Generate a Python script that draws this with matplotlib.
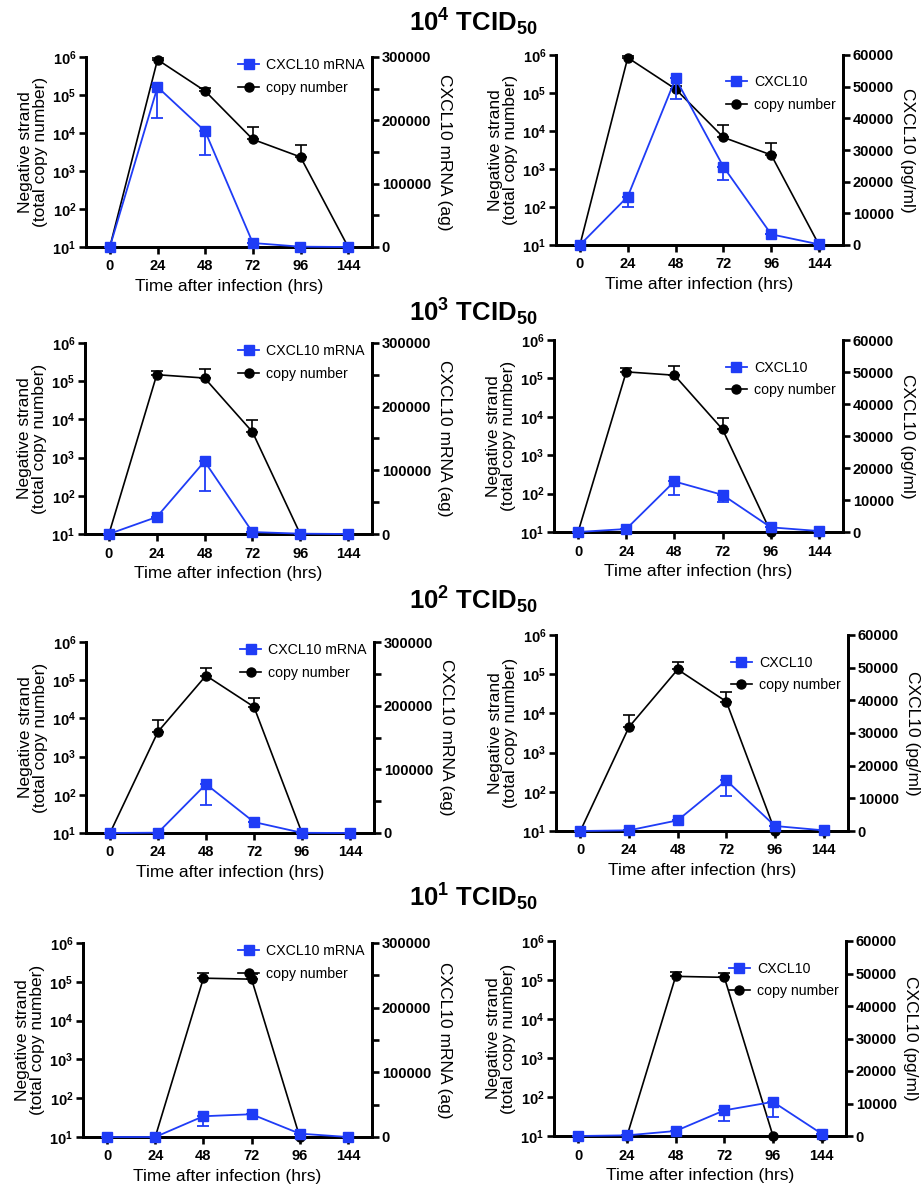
import matplotlib
matplotlib.use('Agg')
import matplotlib.pyplot as plt
from matplotlib.lines import Line2D
from matplotlib.ticker import FixedLocator, NullFormatter

plt.rcParams['font.family'] = ['Liberation Sans', 'DejaVu Sans']
plt.rcParams['mathtext.fontset'] = 'custom'
plt.rcParams['mathtext.rm'] = 'Liberation Sans:bold'
plt.rcParams['mathtext.it'] = 'Liberation Sans:bold'
plt.rcParams['mathtext.bf'] = 'Liberation Sans:bold'

# ---- data ----
times = ['0', '24', '48', '72', '96', '144']
doses = ['10$^{4}$ TCID$_{50}$', '10$^{3}$ TCID$_{50}$',
         '10$^{2}$ TCID$_{50}$', '10$^{1}$ TCID$_{50}$']

# negative strand copy number (mean, upper error)
copy_d4 = [10, 850000, 127000, 6800, 2340, 10]
copy_d4_err = [0, 105000, 28000, 7200, 2360, 0]
copy_d3 = [10, 148000, 121000, 4700, 10, 10]
copy_d3_err = [0, 34000, 92000, 4800, 0, 0]
copy_d2 = [10, 4500, 132000, 20000, 10, 10]
copy_d2_err = [0, 4400, 73000, 15000, 0, 0]
copy_d1 = [10, 10, 124000, 117000, 10, 10]
copy_d1_err = [0, 0, 41000, 38000, 0, 0]

# CXCL10 mRNA (ag) (mean, lower error)
mrna_d4 = [0, 252600, 182600, 6300, 500, 0]
mrna_d4_err = [0, 48400, 37900, 0, 0, 0]
mrna_d3 = [0, 26700, 114100, 3100, 500, 0]
mrna_d3_err = [0, 0, 46100, 0, 0, 0]
mrna_d2 = [0, 500, 76700, 17200, 300, 0]
mrna_d2_err = [0, 0, 32400, 0, 0, 0]
mrna_d1 = [0, 0, 32100, 35200, 5200, 0]
mrna_d1_err = [0, 0, 15000, 0, 0, 0]

# CXCL10 protein (pg/ml) (mean, lower error)
prot_d4 = [0, 15300, 52600, 24700, 3370, 200]
prot_d4_err = [0, 3400, 6400, 4200, 0, 0]
prot_d3 = [0, 940, 15800, 11600, 1460, 300]
prot_d3_err = [0, 0, 4200, 2200, 0, 0]
prot_d2 = [0, 200, 3270, 15500, 1530, 200]
prot_d2_err = [0, 0, 0, 4900, 0, 0]
prot_d1 = [0, 200, 1540, 7900, 10500, 700]
prot_d1_err = [0, 0, 0, 3300, 4600, 0]

copies = [(copy_d4, copy_d4_err), (copy_d3, copy_d3_err),
          (copy_d2, copy_d2_err), (copy_d1, copy_d1_err)]
mrnas = [(mrna_d4, mrna_d4_err), (mrna_d3, mrna_d3_err),
         (mrna_d2, mrna_d2_err), (mrna_d1, mrna_d1_err)]
prots = [(prot_d4, prot_d4_err), (prot_d3, prot_d3_err),
         (prot_d2, prot_d2_err), (prot_d1, prot_d1_err)]

BLUE = '#1f3cf6'
W, H = 922, 1186

# panel rectangles in pixels: (left, top, right, bottom)
rects = [[(86, 57, 372, 247), (556, 55, 843, 245)],
         [(85, 343, 372, 534), (554, 340, 843, 532)],
         [(86, 642, 374, 833), (556, 635, 848, 831)],
         [(83, 943, 372, 1137), (554, 941, 846, 1136)]]
title_y = [22, 312, 600, 897]


def _style(ax):
    for s in ['left', 'right', 'bottom']:
        ax.spines[s].set_linewidth(2.0)
    ax.spines['top'].set_visible(False)
    ax.tick_params(width=1.9, length=5, labelsize=10.5, pad=2)
    ax.tick_params(axis='x', pad=4)
    for lab in ax.get_xticklabels() + ax.get_yticklabels():
        lab.set_fontweight('bold')


def draw_panel(fig, rect, copy, blue, right_max, right_step, right_label,
               blue_label, legend_y):
    l, t, r, b = rect
    ax = fig.add_axes([l / W, 1 - b / H, (r - l) / W, (b - t) / H])
    ax2 = ax.twinx()
    x = list(range(len(times)))

    # copy number on log axis
    ax.errorbar(x, copy[0], yerr=[[0] * len(x), copy[1]], color='k',
                marker='o', markersize=6.5, linewidth=1.2, capsize=4,
                elinewidth=1.2, capthick=1.2, clip_on=False, zorder=3)
    ax.set_yscale('log')
    ax.set_ylim(10, 1e6)
    ax.set_xlim(-0.5, 5.5)
    ax.set_xticks(x)
    ax.set_xticklabels(times)
    ax.yaxis.set_major_locator(FixedLocator([10 ** i for i in range(1, 7)]))
    ax.yaxis.set_minor_locator(FixedLocator([]))
    ax.set_ylabel('Negative strand\n(total copy number)', fontsize=12.5,
                  labelpad=3, linespacing=1.0)
    ax.set_xlabel('Time after infection (hrs)', fontsize=12.5, labelpad=4)

    # CXCL10 on linear right axis
    ax2.errorbar(x, blue[0], yerr=[blue[1], [0] * len(x)], color=BLUE,
                 marker='s', markersize=6.5, linewidth=1.3, capsize=4,
                 elinewidth=1.3, capthick=1.3, clip_on=False, zorder=4)
    ax2.set_ylim(0, right_max)
    ax2.set_yticks(list(range(0, right_max + 1, right_step)))
    if right_max == 300000:
        ax2.yaxis.set_minor_locator(FixedLocator([50000, 150000, 250000]))
        ax2.yaxis.set_minor_formatter(NullFormatter())
        ax2.tick_params(which='minor', width=1.9, length=5)
    ax2.set_ylabel(right_label, fontsize=12.5, rotation=270, labelpad=15)
    ax2.set_xlim(-0.5, 5.5)
    _style(ax)
    _style(ax2)

    handles = [Line2D([], [], color=BLUE, marker='s', markersize=6.5, lw=1.3),
               Line2D([], [], color='k', marker='o', markersize=6.5, lw=1.2)]
    ax2.legend(handles, [blue_label, 'copy number'], loc='upper right',
               bbox_to_anchor=(1.0, legend_y), frameon=False, fontsize=10.2,
               handlelength=1.5, handletextpad=0.5, labelspacing=0.6,
               borderaxespad=0.1)


def draw():
    fig = plt.figure(figsize=(W / 100, H / 100), dpi=100)
    for i in range(4):
        fig.text(0.513, 1 - title_y[i] / H, doses[i], ha='center',
                 va='center', fontsize=18.5, fontweight='bold')
        draw_panel(fig, rects[i][0], copies[i], mrnas[i], 300000, 100000,
                   'CXCL10 mRNA (ag)', 'CXCL10 mRNA', 1.03)
        draw_panel(fig, rects[i][1], copies[i], prots[i], 60000, 10000,
                   'CXCL10 (pg/ml)', 'CXCL10', 0.93)
    fig.savefig('out.png', dpi=100)


if __name__ == '__main__':
    draw()
